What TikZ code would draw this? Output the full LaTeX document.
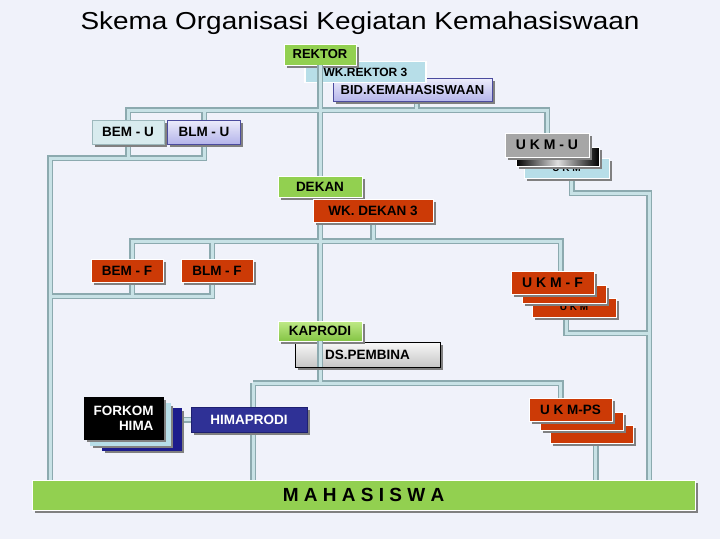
\documentclass[tikz,border=0pt]{standalone}
\usepackage{fontspec}
\setmainfont{Liberation Sans}
\newfontfamily\titlefont[FakeStretch=1.14]{Liberation Sans}
\usepackage{tikz}
\usetikzlibrary{shadows}

\definecolor{bgcol}{HTML}{F0F2FA}
\definecolor{pipeedge}{HTML}{8CAAAF}
\definecolor{pipefill}{HTML}{C8E2E6}
\definecolor{boxgreen}{HTML}{92D050}
\definecolor{boxred}{HTML}{CC3A06}
\definecolor{boxteal}{HTML}{B7DEE8}
\definecolor{boxpale}{HTML}{D8EBEE}
\definecolor{paleline}{HTML}{9DB8BC}
\definecolor{lavtop}{HTML}{ECECFB}
\definecolor{lavbot}{HTML}{B4B4EA}
\definecolor{lavline}{HTML}{4B4B9E}
\definecolor{boxgray}{HTML}{A6A6A6}
\definecolor{boxnavy}{HTML}{2F3196}
\definecolor{navyline}{HTML}{1E2070}
\definecolor{boxdeep}{HTML}{1C1C8C}
\definecolor{kaptop}{HTML}{C0EA88}
\definecolor{kapbot}{HTML}{84C444}

\pgfdeclarelayer{back}
\pgfdeclarelayer{pipes}
\pgfsetlayers{back,pipes,main}

\newcommand{\pipenet}[1]{
	\draw[#1] (rektor.south) -- (dekan.north);
	\draw[#1] (bemu.north) -- (bemu.north |- ubus) -| (ukmu.north);
	\draw[#1] (blmu.north) -- (blmu.north |- ubus);
	\draw[#1] ([xshift=4pt]bidkema.south) -- ([xshift=4pt]bidkema.south |- ubus);
	\draw[#1] (blmu.south) |- (lv) -- (lv |- mhs.north);
	\draw[#1] (bemu.south) -- (bemu.south |- lv);
	\draw[#1] ([xshift=5pt]ukmub.south) |- (rv) -- (rv |- mhs.north);
	\draw[#1] ([xshift=-8pt]ukmfb.south) |- (rvf);
	\draw[#1] (dekan.south) -- (kaprodi.north);
	\draw[#1] (wkdekan.south) -- (wkdekan.south |- fbus);
	\draw[#1] ([xshift=5pt]bemf.north) -- ([xshift=5pt]bemf.north |- fbus) -| ([xshift=8pt]ukmf.north);
	\draw[#1] ([xshift=-5pt]blmf.north) -- ([xshift=-5pt]blmf.north |- fbus);
	\draw[#1] ([xshift=-5pt]blmf.south) |- (fl);
	\draw[#1] ([xshift=5pt]bemf.south) -- ([xshift=5pt]bemf.south |- fl);
	\draw[#1] (kaprodi.south |- dspembina.south) -- (kaprodi.south |- pbus);
	\draw[#1] (pbus) -- (pbus |- mhs.north);
	\draw[#1] (pbus) -| ([xshift=-10pt]ukmps.north);
	\draw[#1] ([xshift=4pt]ukmpsb.south) -- ([xshift=4pt]ukmpsb.south |- mhs.north);
	\draw[#1] (himaprodi.west) -- (himaprodi.west -| forkomb.east);
}

\begin{document}
\begin{tikzpicture}[x=1pt, y=-1pt,
	flat/.style={draw=white, line width=0.8pt, inner sep=2pt, text=black,
		font=\fontsize{13.5}{15}\selectfont\bfseries},
	box/.style={flat,
		drop shadow={shadow xshift=2.5pt, shadow yshift=-2.5pt, fill=black!50, opacity=1}},
	greenbox/.style={box, fill=boxgreen},
	redbox/.style={box, fill=boxred},
	tealbox/.style={flat, fill=boxteal, line width=1.6pt},
	lavbox/.style={box, top color=lavtop, bottom color=lavbot, draw=lavline},
	stackback/.style={font=\fontsize{10}{11}\selectfont\bfseries},
	pipeout/.style={draw=pipeedge, line width=6pt},
	pipein/.style={draw=pipefill, line width=3pt}]
	\useasboundingbox (0,0) rectangle (720,539);
	\begin{pgfonlayer}{back}
		\fill[bgcol] (0,0) rectangle (720,539);
	\end{pgfonlayer}

	\node[anchor=base, font=\titlefont\fontsize{24.5}{28}\selectfont] (title) at (360,29) {Skema Organisasi Kegiatan Kemahasiswaan};

	\node[lavbox, minimum width=159pt, minimum height=23pt, font=\fontsize{13}{15}\selectfont\bfseries] (bidkema) at (412.5,90) {BID.KEMAHASISWAAN};
	\node[tealbox, minimum width=121pt, minimum height=21pt, font=\fontsize{12}{14}\selectfont\bfseries] (wkrektor) at (365.5,72) {WK.REKTOR 3};
	\node[greenbox, minimum width=72pt, minimum height=21pt, font=\fontsize{13}{15}\selectfont\bfseries] (rektor) at (320,54.5) {REKTOR};

	\node[box, fill=boxpale, draw=paleline, minimum width=72pt, minimum height=24pt] (bemu) at (128,132) {BEM - U};
	\node[lavbox, minimum width=73pt, minimum height=24pt] (blmu) at (204,132) {BLM - U};

	\node[box, fill=boxteal, minimum width=85pt, minimum height=20pt, stackback] (ukmub) at (566.5,168) {U K M};
	\node[box, left color=black, right color=black, middle color=gray!25, minimum width=83pt, minimum height=19pt] (ukmum) at (557.5,156.5) {};
	\node[box, fill=boxgray, minimum width=84pt, minimum height=24pt, font=\fontsize{14}{16}\selectfont\bfseries] (ukmu) at (547,145) {U K M - U};

	\node[greenbox, minimum width=84pt, minimum height=21pt] (dekan) at (320,186.5) {DEKAN};
	\node[redbox, minimum width=120pt, minimum height=23pt] (wkdekan) at (373,210.5) {WK. DEKAN 3};

	\node[redbox, minimum width=72pt, minimum height=23pt] (bemf) at (127,270.5) {BEM - F};
	\node[redbox, minimum width=72pt, minimum height=23pt] (blmf) at (217,270.5) {BLM - F};

	\node[redbox, minimum width=84pt, minimum height=19pt, stackback] (ukmfb) at (574,307.5) {U K M};
	\node[redbox, minimum width=84pt, minimum height=18pt] (ukmfm) at (564,294) {};
	\node[redbox, minimum width=83pt, minimum height=23pt, font=\fontsize{14}{16}\selectfont\bfseries] (ukmf) at (552.5,282.5) {U K M - F};

	\node[box, top color=gray!5, bottom color=gray!45, draw=black, minimum width=145pt, minimum height=25pt] (dspembina) at (367.5,354.5) {DS.PEMBINA};
	\node[box, top color=kaptop, bottom color=kapbot, minimum width=84pt, minimum height=20pt] (kaprodi) at (320,331) {KAPRODI};

	\node[redbox, minimum width=83pt, minimum height=18pt] (ukmpsb) at (591.5,434) {};
	\node[redbox, minimum width=83pt, minimum height=18pt] (ukmpsm) at (581.5,421) {};
	\node[redbox, minimum width=83pt, minimum height=23pt] (ukmps) at (570.5,409.5) {U K M-PS};

	\node[box, fill=boxdeep, draw=boxdeep, minimum width=79pt, minimum height=42pt] (forkomb) at (141.5,429) {};
	\node[box, fill=boxteal, draw=boxteal, minimum width=80pt, minimum height=42pt] (forkomt) at (130,424) {};
	\node[box, fill=black, draw=black, text=white, align=right, minimum width=79pt, minimum height=42pt] (forkom) at (123.5,418) {FORKOM\\HIMA};
	\node[box, fill=boxnavy, draw=navyline, text=white, minimum width=116pt, minimum height=25pt] (himaprodi) at (249,419.5) {HIMAPRODI};

	\node[greenbox, minimum width=663pt, minimum height=30pt, font=\fontsize{19}{22}\selectfont\bfseries] (mhs) at (363.5,495) {M A H A S I S W A};

	\coordinate (ubus) at (0,110);
	\coordinate (lv) at (50,158);
	\coordinate (rv) at (649,193);
	\coordinate (rvf) at (649,333);
	\coordinate (fbus) at (0,241);
	\coordinate (fl) at (50,296);
	\coordinate (pbus) at (253,383);

	\begin{pgfonlayer}{pipes}
		\pipenet{pipeout}
		\pipenet{pipein}
	\end{pgfonlayer}

	\draw[pipeout] (rektor.south) -- (rektor.south |- wkrektor.south);
	\draw[pipein] (rektor.south) -- (rektor.south |- wkrektor.south);
	\draw[pipeout] (kaprodi.south) -- (kaprodi.south |- dspembina.south);
	\draw[pipein] (kaprodi.south) -- (kaprodi.south |- dspembina.south);
\end{tikzpicture}
\end{document}
